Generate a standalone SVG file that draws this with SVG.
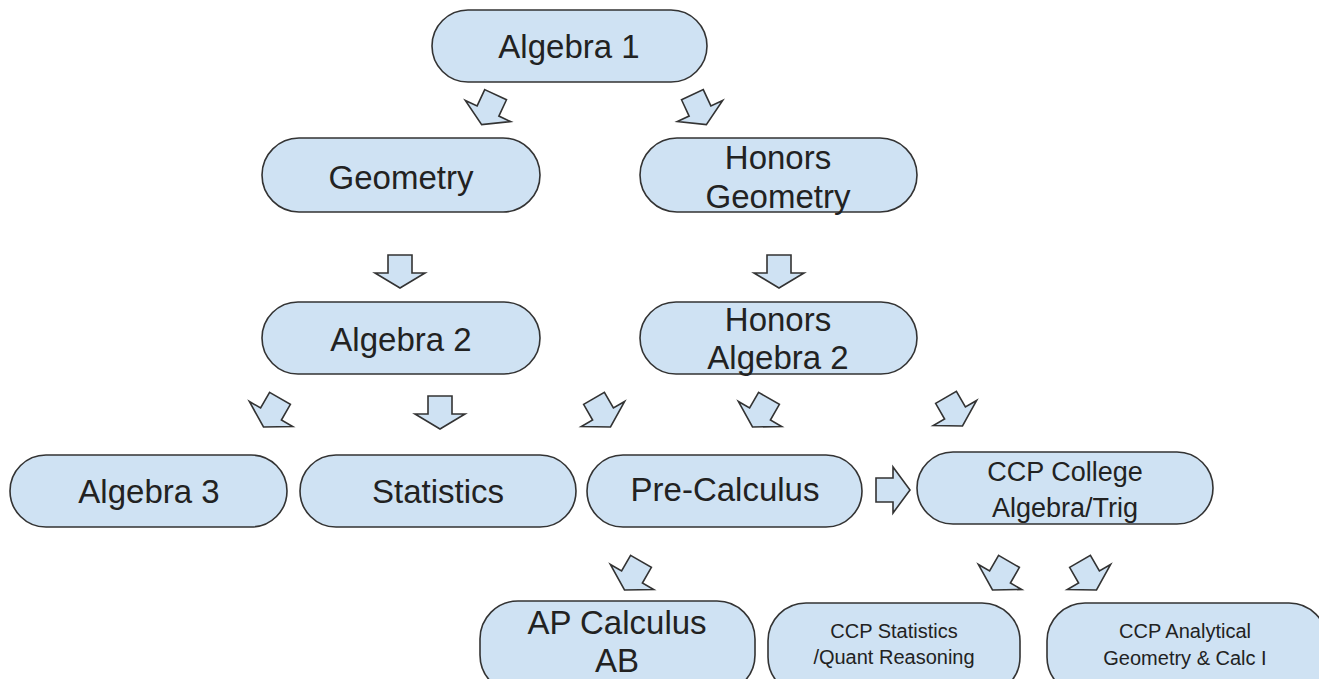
<svg xmlns="http://www.w3.org/2000/svg" width="1319" height="679" viewBox="0 0 1319 679">
<defs>
<style>
.n{fill:#cfe2f3;stroke:#333;stroke-width:1.6}
.a{fill:#cfe2f3;stroke:#333;stroke-width:1.6;stroke-linejoin:miter}
text{font-family:"Liberation Sans",Arial,sans-serif;fill:#222;text-anchor:middle}
.t{font-size:33px}
.m{font-size:27px}
.s{font-size:20px}
</style>
<polygon id="arr" points="-12,-18 12,-18 12,0 25,0 0,15 -25,0 -12,0"/>
</defs>
<rect width="1319" height="679" fill="#fff"/>
<g id="connectors">
<use href="#arr" class="a" transform="translate(488,111) rotate(25)"/>
<use href="#arr" class="a" transform="translate(700,111) rotate(-25)"/>
<use href="#arr" class="a" transform="translate(400,273)"/>
<use href="#arr" class="a" transform="translate(779,273)"/>
<use href="#arr" class="a" transform="translate(271,414) rotate(30)"/>
<use href="#arr" class="a" transform="translate(440,414)"/>
<use href="#arr" class="a" transform="translate(603,414) rotate(-30)"/>
<use href="#arr" class="a" transform="translate(760,414) rotate(30)"/>
<use href="#arr" class="a" transform="translate(955,413) rotate(-30)"/>
<polygon class="a" points="876,478 893,478 893,467 910,490 893,513 893,502 876,502"/>
<use href="#arr" class="a" transform="translate(632,577) rotate(30)"/>
<use href="#arr" class="a" transform="translate(1000,577) rotate(30)"/>
<use href="#arr" class="a" transform="translate(1089,577) rotate(-30)"/>
</g>
<g id="algebra1"><rect class="n" x="432" y="10" width="275" height="72" rx="36"/><text class="t" x="569" y="58">Algebra 1</text></g>
<g id="geometry"><rect class="n" x="262" y="138" width="278" height="74" rx="37"/><text class="t" x="401" y="189">Geometry</text></g>
<g id="honors-geometry"><rect class="n" x="640" y="138" width="277" height="74" rx="37"/><text class="t" x="778" y="169">Honors</text><text class="t" x="778" y="208">Geometry</text></g>
<g id="algebra2"><rect class="n" x="262" y="302" width="278" height="72" rx="36"/><text class="t" x="401" y="351">Algebra 2</text></g>
<g id="honors-algebra2"><rect class="n" x="640" y="302" width="277" height="72" rx="36"/><text class="t" x="778" y="331">Honors</text><text class="t" x="778" y="369">Algebra 2</text></g>
<g id="algebra3"><rect class="n" x="10" y="455" width="277" height="72" rx="36"/><text class="t" x="149" y="503">Algebra 3</text></g>
<g id="statistics"><rect class="n" x="300" y="455" width="276" height="72" rx="36"/><text class="t" x="438" y="503">Statistics</text></g>
<g id="precalculus"><rect class="n" x="587" y="455" width="275" height="72" rx="36"/><text class="t" x="725" y="501">Pre-Calculus</text></g>
<g id="ccp-college"><rect class="n" x="917" y="452" width="296" height="72" rx="36"/><text class="m" x="1065" y="481">CCP College</text><text class="m" x="1065" y="517">Algebra/Trig</text></g>
<g id="ap-calculus"><rect class="n" x="480" y="601" width="275" height="92" rx="38"/><text class="t" x="617" y="634">AP Calculus</text><text class="t" x="617" y="672">AB</text></g>
<g id="ccp-statistics"><rect class="n" x="768" y="603" width="252" height="92" rx="38"/><text class="s" x="894" y="638">CCP Statistics</text><text class="s" x="894" y="664">/Quant Reasoning</text></g>
<g id="ccp-analytical"><rect class="n" x="1047" y="603" width="280" height="92" rx="38"/><text class="s" x="1185" y="638">CCP Analytical</text><text class="s" x="1185" y="665">Geometry &amp; Calc I</text></g>
</svg>
